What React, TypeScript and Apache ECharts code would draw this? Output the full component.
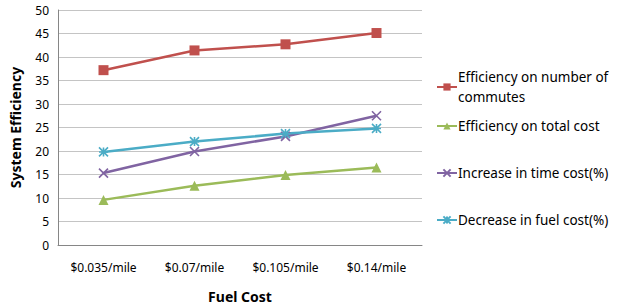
import React, { useEffect, useRef } from "react";
import * as echarts from "echarts";

const categories = ["$0.035/mile", "$0.07/mile", "$0.105/mile", "$0.14/mile"];
const commutes = [37.2, 41.4, 42.7, 45.1];
const totalCost = [9.6, 12.6, 14.9, 16.5];
const timeCost = [15.3, 19.9, 23.1, 27.5];
const fuelCost = [19.8, 22.0, 23.7, 24.8];
const seriesNames = [
  "Efficiency on number of commutes",
  "Efficiency on total cost",
  "Increase in time cost(%)",
  "Decrease in fuel cost(%)",
];
const yTicks = { min: 0, max: 50, interval: 5 };

const FONT = "'Noto Sans', sans-serif";
const X_SYMBOL = "path://M0,0L10,10M10,0L0,10";
const STAR_SYMBOL = "path://M0,0L10,10M10,0L0,10M5,0L5,10M0,5L10,5";

export default function App() {
  const ref = useRef<HTMLDivElement>(null);
  useEffect(() => {
    if (!ref.current) return;
    const chart = echarts.init(ref.current, undefined, { renderer: "svg" });
    const legendTops = [67, 116, 163, 210];
    const mk = (name: string, data: number[], color: string, symbol: string, size: number, stroke: boolean) => ({
      name,
      type: "line",
      data,
      symbol,
      symbolSize: size,
      lineStyle: { color, width: 2.5 },
      itemStyle: stroke
        ? { color: "rgba(0,0,0,0)", borderColor: color, borderWidth: 1.6 }
        : { color, borderColor: color, borderWidth: 0 },
    });
    chart.setOption({
      animation: false,
      textStyle: { fontFamily: FONT },
      grid: { left: 58, right: 203, top: 10, bottom: 58 },
      legend: seriesNames.map((n, i) => ({
        data: [n],
        left: 436,
        top: legendTops[i],
        orient: "vertical",
        itemWidth: 20,
        itemHeight: 9,
        itemGap: 0,
        padding: 0,
        selectedMode: false,
        formatter: (name: string) =>
          name === seriesNames[0] ? "Efficiency on number of\ncommutes" : name,
        textStyle: { fontFamily: FONT, fontSize: 13.5, color: "#000", lineHeight: 20, padding: [0, 0, 0, -4] },
      })),
      xAxis: {
        type: "category",
        data: categories,
        boundaryGap: true,
        name: "Fuel Cost",
        nameLocation: "middle",
        nameGap: 44,
        nameTextStyle: { fontFamily: FONT, fontSize: 14, fontWeight: "bold", color: "#000" },
        axisLine: { lineStyle: { color: "#868686", width: 1 } },
        axisTick: { show: false },
        axisLabel: { fontSize: 12, color: "#000", margin: 16 },
      },
      yAxis: {
        type: "value",
        min: yTicks.min,
        max: yTicks.max,
        interval: yTicks.interval,
        name: "System Efficiency",
        nameLocation: "middle",
        nameGap: 36,
        nameTextStyle: { fontFamily: FONT, fontSize: 14, fontWeight: "bold", color: "#000" },
        axisLine: { show: true, lineStyle: { color: "#868686", width: 1 } },
        axisTick: { show: false },
        axisLabel: { fontSize: 12, color: "#000", margin: 9 },
        splitLine: { lineStyle: { color: "#c4c4c4", width: 1 } },
      },
      series: [
        mk(seriesNames[0], commutes, "#C0504D", "rect", 10, false),
        mk(seriesNames[1], totalCost, "#9BBB59", "triangle", 10, false),
        mk(seriesNames[2], timeCost, "#8064A2", X_SYMBOL, 9, true),
        mk(seriesNames[3], fuelCost, "#4BACC6", STAR_SYMBOL, 9, true),
      ],
    });
    return () => chart.dispose();
  }, []);
  return <div ref={ref} style={{ width: 625, height: 308, position: "absolute", left: 0, top: 0 }} />;
}
